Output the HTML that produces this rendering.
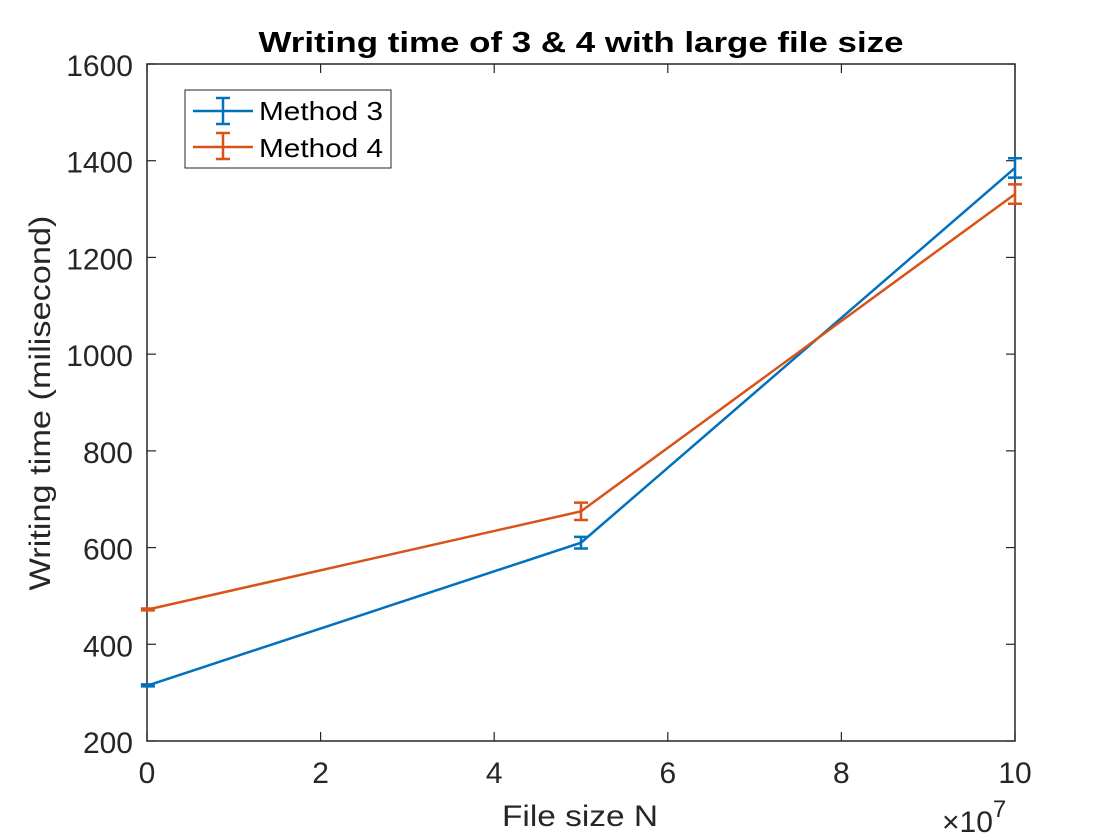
<!DOCTYPE html>
<html><head><meta charset="utf-8"><style>body{margin:0;background:#fff}svg{display:block;font-family:"Liberation Sans",sans-serif}</style></head>
<body>
<svg id="chart" width="1120" height="840" xmlns="http://www.w3.org/2000/svg">
<rect width="1120" height="840" fill="#fff"/>
<g id="axes"></g>
<g id="series"></g>
<text x="581" y="52" text-anchor="middle" font-size="29" font-weight="bold" fill="#000" textLength="645" lengthAdjust="spacingAndGlyphs">Writing time of 3 &amp; 4 with large file size</text>
<text x="580" y="826" text-anchor="middle" font-size="30" fill="#262626" textLength="156" lengthAdjust="spacingAndGlyphs">File size N</text>
<text transform="translate(50,403) rotate(-90)" text-anchor="middle" font-size="30" fill="#262626" textLength="375" lengthAdjust="spacingAndGlyphs">Writing time (milisecond)</text>
<text x="942" y="832" font-size="30" fill="#262626">×10<tspan dy="-15" font-size="24">7</tspan></text>
<g>
<rect x="185" y="90" width="206" height="78" fill="#fff" stroke="#262626" stroke-width="1"/>
<line x1="193" y1="111" x2="253" y2="111" stroke="#0072BD" stroke-width="2.5"/>
<line x1="223" y1="98" x2="223" y2="124" stroke="#0072BD" stroke-width="2.5"/>
<line x1="216" y1="98" x2="230" y2="98" stroke="#0072BD" stroke-width="2.5"/>
<line x1="216" y1="124" x2="230" y2="124" stroke="#0072BD" stroke-width="2.5"/>
<text x="259" y="120" font-size="26" fill="#000" textLength="124" lengthAdjust="spacingAndGlyphs">Method 3</text>
<line x1="193" y1="147" x2="253" y2="147" stroke="#D95319" stroke-width="2.5"/>
<line x1="223" y1="133" x2="223" y2="159" stroke="#D95319" stroke-width="2.5"/>
<line x1="216" y1="133" x2="230" y2="133" stroke="#D95319" stroke-width="2.5"/>
<line x1="216" y1="159" x2="230" y2="159" stroke="#D95319" stroke-width="2.5"/>
<text x="259" y="157" font-size="26" fill="#000" textLength="124" lengthAdjust="spacingAndGlyphs">Method 4</text>
</g>
</svg>
<script>
const xValues=[1e5,5e7,1e8];
const method3=[315,610,1385];
const method3Err=[2,12,20];
const method4=[472,675,1331];
const method4Err=[2,18,20];
const xTicks=[0,2,4,6,8,10];
const yTicks=[200,400,600,800,1000,1200,1400,1600];
const L=147,R=1015,T=64,B=741;
const xs=v=>L+(v/1e8)*(R-L);
const ys=v=>B-(v-200)/1400*(B-T);
const NS="http://www.w3.org/2000/svg";
function mk(p,tag,a){const e=document.createElementNS(NS,tag);for(const k in a)e.setAttribute(k,a[k]);p.appendChild(e);return e;}
const ax=document.getElementById('axes');
const fr=mk(ax,'rect',{x:L,y:T,width:R-L,height:B-T,fill:'none',stroke:'#262626','stroke-width':1.5});


xTicks.forEach(t=>{const x=xs(t*1e7);
mk(ax,'line',{x1:x,y1:B,x2:x,y2:B-9,stroke:'#262626','stroke-width':1.2});
mk(ax,'line',{x1:x,y1:T,x2:x,y2:T+9,stroke:'#262626','stroke-width':1.2});
const tx=mk(ax,'text',{x:x,y:B+42,'text-anchor':'middle','font-size':30,fill:'#262626'});tx.textContent=t;

});
yTicks.forEach(t=>{const y=ys(t);
mk(ax,'line',{x1:L,y1:y,x2:L+9,y2:y,stroke:'#262626','stroke-width':1.2});
mk(ax,'line',{x1:R,y1:y,x2:R-9,y2:y,stroke:'#262626','stroke-width':1.2});
const tx=mk(ax,'text',{x:L-14,y:y+12,'text-anchor':'end','font-size':30,fill:'#262626'});tx.textContent=t;

});
const sg=document.getElementById('series');
function draw(vals,errs,col,name){
const g=mk(sg,'g',{});


const pl=mk(g,'polyline',{points:vals.map((v,i)=>xs(xValues[i])+','+ys(v)).join(' '),fill:'none',stroke:col,'stroke-width':2.5});


vals.forEach((v,i)=>{const x=xs(xValues[i]),y1=ys(v+errs[i]),y2=ys(v-errs[i]);
const e=mk(g,'path',{d:`M${x},${y1}V${y2}M${x-7},${y1}H${x+7}M${x-7},${y2}H${x+7}`,stroke:col,'stroke-width':2.5,fill:'none'});

});}
draw(method3,method3Err,'#0072BD','method-3');
draw(method4,method4Err,'#D95319','method-4');
</script>
</body></html>
